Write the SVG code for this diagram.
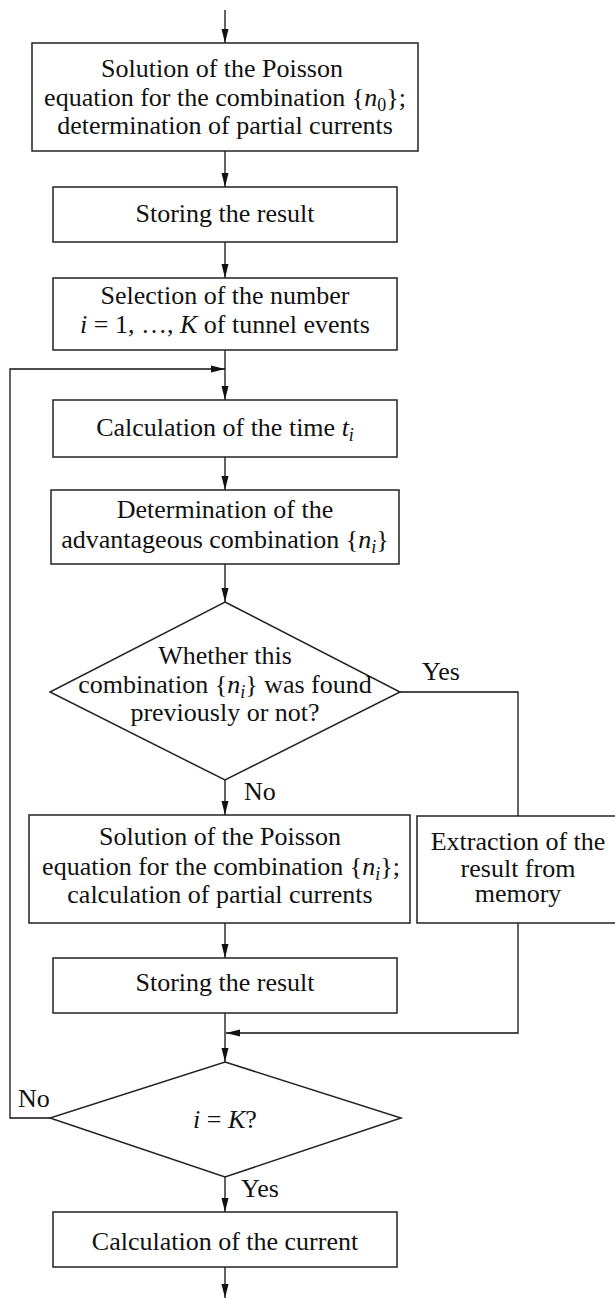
<svg xmlns="http://www.w3.org/2000/svg" width="615" height="1299" viewBox="0 0 615 1299" font-family="'Liberation Serif', 'Times New Roman', Tinos, 'DejaVu Serif', serif">
<style>
.box{fill:#fff;stroke:#222;stroke-width:1.5}
.ln{fill:none;stroke:#111;stroke-width:1.3}
text{font-family:'Liberation Serif', 'Times New Roman', Tinos, 'DejaVu Serif', serif;font-size:26px;fill:#111;text-anchor:middle}
.lbl{text-anchor:start}
.it{font-style:italic}
.sub{font-size:18px}
</style>
<defs>
<marker id="ah" markerUnits="userSpaceOnUse" markerWidth="14" markerHeight="8" refX="14" refY="4" orient="auto">
<path d="M0,0.5 L14,4 L0,7.5 z" fill="#111"/>
</marker>
</defs>
<g id="connectors">
<line class="ln" x1="225" y1="10" x2="225" y2="43" marker-end="url(#ah)"/>
<line class="ln" x1="225" y1="151" x2="225" y2="187" marker-end="url(#ah)"/>
<line class="ln" x1="225" y1="242" x2="225" y2="278" marker-end="url(#ah)"/>
<line class="ln" x1="225" y1="350" x2="225" y2="400" marker-end="url(#ah)"/>
<polyline class="ln" points="50,1118 10,1118 10,369 225,369" marker-end="url(#ah)"/>
<line class="ln" x1="225" y1="457" x2="225" y2="490" marker-end="url(#ah)"/>
<line class="ln" x1="225" y1="564" x2="225" y2="602" marker-end="url(#ah)"/>
<line class="ln" x1="225" y1="780" x2="225" y2="815" marker-end="url(#ah)"/>
<polyline class="ln" points="400,692 518,692 518,816"/>
<line class="ln" x1="225" y1="923" x2="225" y2="958" marker-end="url(#ah)"/>
<polyline class="ln" points="518,923 518,1033 226,1033" marker-end="url(#ah)"/>
<line class="ln" x1="225" y1="1013" x2="225" y2="1062" marker-end="url(#ah)"/>
<line class="ln" x1="225" y1="1177" x2="225" y2="1212" marker-end="url(#ah)"/>
<line class="ln" x1="225" y1="1267" x2="225" y2="1298" marker-end="url(#ah)"/>
<text class="lbl" x="422" y="680">Yes</text>
<text class="lbl" x="244" y="800">No</text>
<text class="lbl" x="18" y="1107">No</text>
<text class="lbl" x="241" y="1197">Yes</text>
</g>
<g id="solve0">
<rect class="box" x="32" y="43" width="386" height="108"/>
<text><tspan x="222" y="77">Solution of the Poisson</tspan><tspan x="225" y="106">equation for the combination {<tspan class="it">n</tspan><tspan class="sub" dy="5">0</tspan><tspan dy="-5">};</tspan></tspan><tspan x="225" y="134">determination of partial currents</tspan></text>
</g>
<g id="store0">
<rect class="box" x="53" y="187" width="344" height="55"/>
<text x="225" y="222">Storing the result</text>
</g>
<g id="select">
<rect class="box" x="53" y="278" width="344" height="72"/>
<text><tspan x="225" y="304">Selection of the number</tspan><tspan x="225" y="333"><tspan class="it">i</tspan> = 1, …, <tspan class="it">K</tspan> of tunnel events</tspan></text>
</g>
<g id="calctime">
<rect class="box" x="53" y="400" width="344" height="57"/>
<text x="225" y="436">Calculation of the time <tspan class="it">t</tspan><tspan class="sub it" dy="5">i</tspan></text>
</g>
<g id="determine">
<rect class="box" x="51" y="490" width="348" height="74"/>
<text><tspan x="225" y="518">Determination of the</tspan><tspan x="225" y="548">advantageous combination {<tspan class="it">n</tspan><tspan class="sub it" dy="5">i</tspan><tspan dy="-5">}</tspan></tspan></text>
</g>
<g id="decision1">
<polygon class="box" points="225,602 400,692 225,780 50,692"/>
<text><tspan x="225" y="664">Whether this</tspan><tspan x="225" y="693">combination {<tspan class="it">n</tspan><tspan class="sub it" dy="5">i</tspan><tspan dy="-5">} was found</tspan></tspan><tspan x="225" y="721">previously or not?</tspan></text>
</g>
<g id="solvei">
<rect class="box" x="29" y="815" width="381" height="108"/>
<text><tspan x="220" y="845">Solution of the Poisson</tspan><tspan x="221" y="875">equation for the combination {<tspan class="it">n</tspan><tspan class="sub it" dy="5">i</tspan><tspan dy="-5">};</tspan></tspan><tspan x="220" y="903">calculation of partial currents</tspan></text>
</g>
<g id="extract">
<rect class="box" x="417" y="816" width="203" height="107"/>
<text><tspan x="518" y="850">Extraction of the</tspan><tspan x="518" y="877">result from</tspan><tspan x="518" y="902">memory</tspan></text>
</g>
<g id="storei">
<rect class="box" x="53" y="958" width="344" height="55"/>
<text x="225" y="991">Storing the result</text>
</g>
<g id="decision2">
<polygon class="box" points="225,1062 401,1118 225,1177 50,1118"/>
<text x="225" y="1128"><tspan class="it">i</tspan> = <tspan class="it">K</tspan>?</text>
</g>
<g id="current">
<rect class="box" x="53" y="1212" width="344" height="55"/>
<text x="225" y="1250">Calculation of the current</text>
</g>
</svg>
